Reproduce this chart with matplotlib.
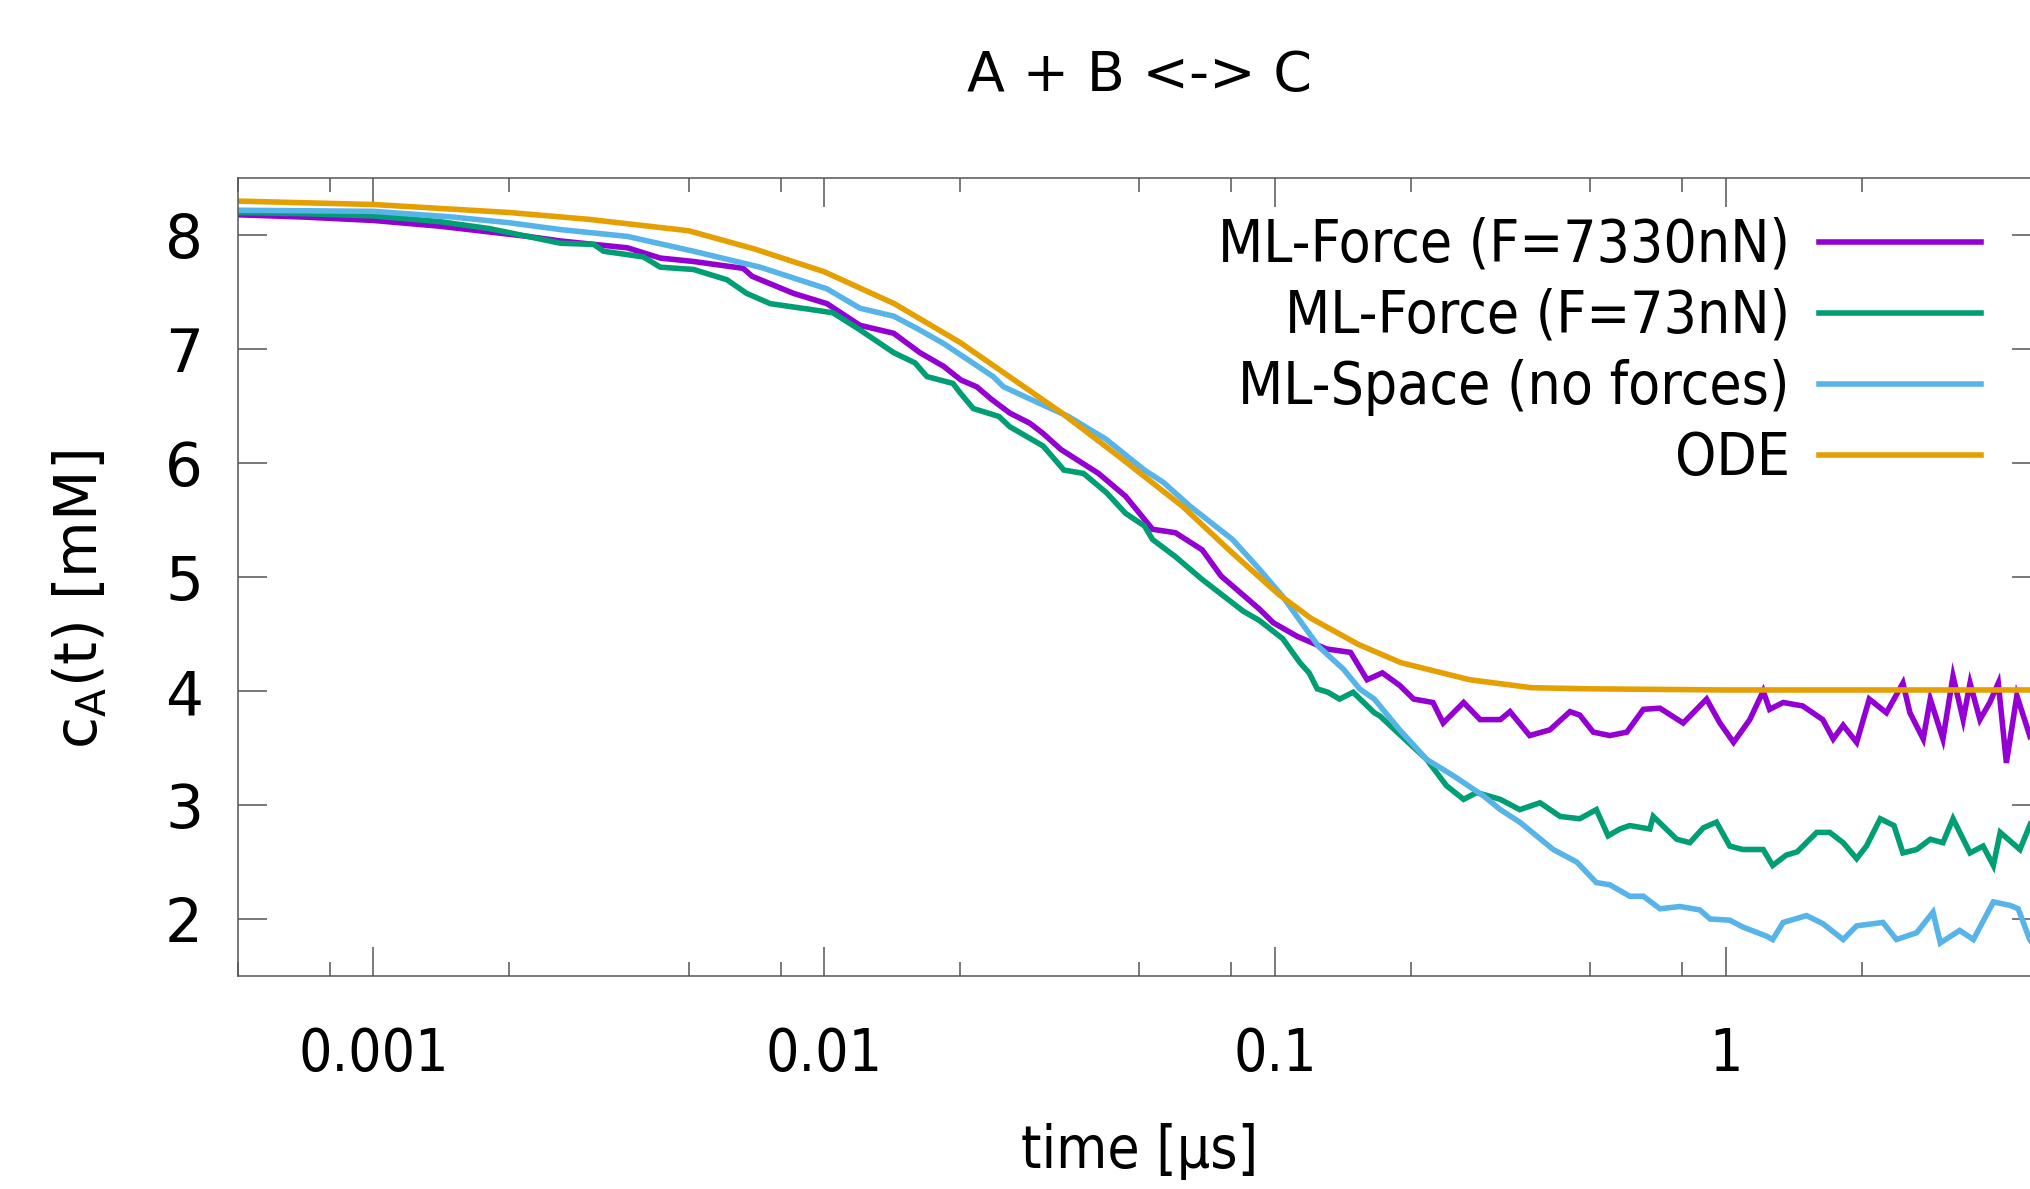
import numpy as np
import matplotlib
matplotlib.use('Agg')
import matplotlib.pyplot as plt
from matplotlib.ticker import FixedLocator, NullFormatter

# ---------------------------------------------------------------------------
# data (time in us, concentration in mM)

t_force_high = [0.0005, 0.0007, 0.001, 0.0014, 0.0018, 0.0022, 0.0026, 0.00366, 0.00433, 0.00513,
                0.00661, 0.00692, 0.00855, 0.01014, 0.0120, 0.01426, 0.0163, 0.0184, 0.0201, 0.0218,
                0.0235, 0.0258, 0.0286, 0.0306, 0.0335, 0.0406, 0.0466, 0.0535, 0.0601, 0.0689,
                0.0759, 0.0923, 0.0991, 0.112, 0.130, 0.147, 0.160, 0.173, 0.189, 0.203,
                0.224, 0.236, 0.262, 0.285, 0.316, 0.332, 0.367, 0.407, 0.451, 0.474,
                0.508, 0.553, 0.603, 0.656, 0.714, 0.804, 0.906, 0.970, 1.04, 1.13,
                1.21, 1.25, 1.34, 1.48, 1.64, 1.73, 1.82, 1.95, 2.08, 2.27,
                2.47, 2.56, 2.74, 2.84, 3.03, 3.19, 3.36, 3.48, 3.66, 3.85,
                4.02, 4.19, 4.42, 4.72, 5.0]
c_force_high = [8.18, 8.16, 8.13, 8.08, 8.03, 7.99, 7.95, 7.89, 7.80, 7.77,
                7.71, 7.64, 7.49, 7.40, 7.21, 7.14, 6.97, 6.85, 6.73, 6.67,
                6.56, 6.44, 6.35, 6.26, 6.12, 5.91, 5.71, 5.42, 5.39, 5.24,
                5.01, 4.72, 4.60, 4.48, 4.37, 4.34, 4.10, 4.16, 4.05, 3.93,
                3.90, 3.72, 3.90, 3.75, 3.75, 3.82, 3.61, 3.66, 3.82, 3.79,
                3.64, 3.61, 3.64, 3.84, 3.85, 3.72, 3.93, 3.72, 3.55, 3.75,
                4.00, 3.84, 3.90, 3.87, 3.75, 3.58, 3.70, 3.55, 3.93, 3.81,
                4.07, 3.81, 3.58, 3.93, 3.58, 4.13, 3.75, 4.07, 3.75, 3.90,
                4.07, 3.37, 3.96, 3.61, 3.70]

t_force_low = [0.0005, 0.0007, 0.001, 0.0014, 0.0018, 0.0022, 0.0026, 0.00308, 0.00324, 0.00397,
               0.00433, 0.00513, 0.00608, 0.00673, 0.00759, 0.00929, 0.01045, 0.0120, 0.01426, 0.0159,
               0.0169, 0.0193, 0.0200, 0.0214, 0.0244, 0.0258, 0.0297, 0.0306, 0.0340, 0.0376,
               0.0423, 0.0466, 0.0513, 0.0535, 0.0601, 0.0689, 0.0789, 0.0851, 0.0923, 0.104,
               0.1135, 0.119, 0.124, 0.131, 0.139, 0.149, 0.166, 0.171, 0.189, 0.217,
               0.240, 0.262, 0.280, 0.316, 0.349, 0.387, 0.429, 0.474, 0.516, 0.548,
               0.582, 0.612, 0.678, 0.690, 0.778, 0.832, 0.891, 0.953, 1.02, 1.09,
               1.21, 1.27, 1.36, 1.44, 1.59, 1.70, 1.82, 1.95, 2.05, 2.20,
               2.36, 2.47, 2.65, 2.84, 3.03, 3.19, 3.48, 3.72, 3.92, 4.06,
               4.49, 4.72, 5.0]
c_force_low = [8.20, 8.19, 8.17, 8.12, 8.06, 7.99, 7.93, 7.92, 7.86, 7.81,
               7.72, 7.70, 7.61, 7.49, 7.40, 7.35, 7.32, 7.17, 6.97, 6.88,
               6.76, 6.70, 6.62, 6.48, 6.41, 6.32, 6.18, 6.15, 5.94, 5.91,
               5.74, 5.56, 5.45, 5.33, 5.18, 4.98, 4.80, 4.70, 4.62, 4.46,
               4.25, 4.16, 4.02, 3.99, 3.93, 3.99, 3.81, 3.78, 3.62, 3.40,
               3.17, 3.05, 3.11, 3.05, 2.96, 3.02, 2.90, 2.88, 2.96, 2.73,
               2.79, 2.82, 2.79, 2.90, 2.70, 2.67, 2.80, 2.85, 2.64, 2.61,
               2.61, 2.47, 2.56, 2.59, 2.76, 2.76, 2.67, 2.53, 2.64, 2.88,
               2.82, 2.58, 2.61, 2.70, 2.67, 2.88, 2.58, 2.64, 2.47, 2.76,
               2.61, 2.82, 2.70]

t_space = [0.0005, 0.001, 0.0015, 0.002, 0.0026, 0.00366, 0.00513, 0.00721, 0.01014, 0.0120,
           0.01426, 0.0161, 0.0184, 0.0237, 0.0250, 0.0306, 0.0348, 0.0422, 0.0513, 0.0566,
           0.0649, 0.0805, 0.0923, 0.104, 0.113, 0.125, 0.142, 0.154, 0.166, 0.189,
           0.217, 0.248, 0.290, 0.316, 0.349, 0.414, 0.467, 0.516, 0.553, 0.612,
           0.656, 0.714, 0.791, 0.875, 0.923, 1.02, 1.09, 1.23, 1.27, 1.34,
           1.51, 1.64, 1.82, 1.95, 2.23, 2.39, 2.65, 2.88, 2.99, 3.30,
           3.54, 3.92, 4.27, 4.45, 4.72, 5.0]
c_space = [8.22, 8.21, 8.16, 8.11, 8.05, 7.99, 7.86, 7.72, 7.53, 7.36,
           7.29, 7.18, 7.05, 6.76, 6.67, 6.51, 6.41, 6.21, 5.94, 5.83,
           5.62, 5.33, 5.07, 4.83, 4.63, 4.39, 4.19, 4.02, 3.93, 3.66,
           3.40, 3.26, 3.08, 2.96, 2.85, 2.61, 2.50, 2.32, 2.30, 2.20,
           2.20, 2.09, 2.11, 2.08, 2.00, 1.99, 1.93, 1.85, 1.82, 1.97,
           2.03, 1.96, 1.82, 1.94, 1.97, 1.82, 1.88, 2.06, 1.79, 1.90,
           1.82, 2.15, 2.12, 2.09, 1.82, 1.70]

t_ode = [0.0005, 0.001, 0.002, 0.003, 0.005, 0.007, 0.01, 0.0143, 0.02, 0.0334,
         0.045, 0.0624, 0.08, 0.1018, 0.12, 0.153, 0.19, 0.27, 0.37, 0.5,
         1.0, 5.0]
c_ode = [8.30, 8.27, 8.20, 8.14, 8.04, 7.88, 7.68, 7.40, 7.06, 6.45,
         6.06, 5.62, 5.22, 4.85, 4.64, 4.41, 4.25, 4.10, 4.03, 4.02,
         4.01, 4.01]

labels = ['ML-Force (F=7330nN)', 'ML-Force (F=73nN)', 'ML-Space (no forces)', 'ODE']
colors = ['#9400d3', '#009e73', '#56b4e9', '#e69f00']

x_ticks = [0.001, 0.01, 0.1, 1]
x_ticklabels = ['0.001', '0.01', '0.1', '1']
x_minor = [k * 10.0 ** e for e in range(-4, 1) for k in (2, 5, 8)]
y_ticks = [2, 3, 4, 5, 6, 7, 8]

# ---------------------------------------------------------------------------

plt.rcParams['font.family'] = ['DejaVu Sans']
plt.rcParams['mathtext.default'] = 'regular'

W, H = 2030, 1189
fig = plt.figure(figsize=(W / 100, H / 100), dpi=100)
# the right border of the plot lies just outside the picture
ax = fig.add_axes([237.7 / W, (H - 976) / H, (2041 - 237.7) / W, (976 - 178.3) / H])

series = [(t_force_high, c_force_high), (t_force_low, c_force_low),
          (t_space, c_space), (t_ode, c_ode)]
for (t, c), lab, col in zip(series, labels, colors):
    ax.plot(t, c, color=col, lw=4.0, label=lab, solid_joinstyle='miter')

ax.set_xscale('log')
ax.set_xlim(0.0005, 5)
ax.set_ylim(1.5, 8.5)

ax.set_xticks(x_ticks)
ax.set_xticklabels(x_ticklabels, fontstretch='condensed')
ax.xaxis.set_minor_locator(FixedLocator(x_minor))
ax.xaxis.set_minor_formatter(NullFormatter())
ax.set_yticks(y_ticks)
ax.set_yticklabels([str(v) for v in y_ticks])

ax.tick_params(axis='both', which='both', direction='in', color='#555555', width=1.1,
               top=True, right=True)
ax.tick_params(axis='x', which='major', length=20.9, pad=36, labelsize=42)
ax.tick_params(axis='x', which='minor', length=10)
ax.tick_params(axis='y', which='major', length=20.9, pad=25, labelsize=43)
ax.tick_params(axis='y', which='minor', left=False, right=False)
for sp in ax.spines.values():
    sp.set_color('#555555')
    sp.set_linewidth(1.1)

ax.set_title('A + B <-> C', fontsize=40, pad=63)
ax.set_xlabel('time [µs]', fontsize=42, fontstretch='condensed')
ax.xaxis.set_label_coords(0.5, -0.2206)
ax.xaxis.label.set_va('center')
ax.set_ylabel('c$_A$(t) [mM]', fontsize=42)
ax.yaxis.set_label_coords(-0.0875, 0.4714)
ax.yaxis.label.set_va('center')

leg = ax.legend(loc='upper right', bbox_to_anchor=(1981 / W, (H - 217) / H),
                bbox_transform=fig.transFigure, frameon=False, markerfirst=False,
                handlelength=2.78, handletextpad=0.5, labelspacing=0.24,
                borderpad=0, borderaxespad=0, fontsize=42)
for txt in leg.get_texts():
    txt.set_fontstretch('condensed')

fig.savefig('out.png', dpi=100)
